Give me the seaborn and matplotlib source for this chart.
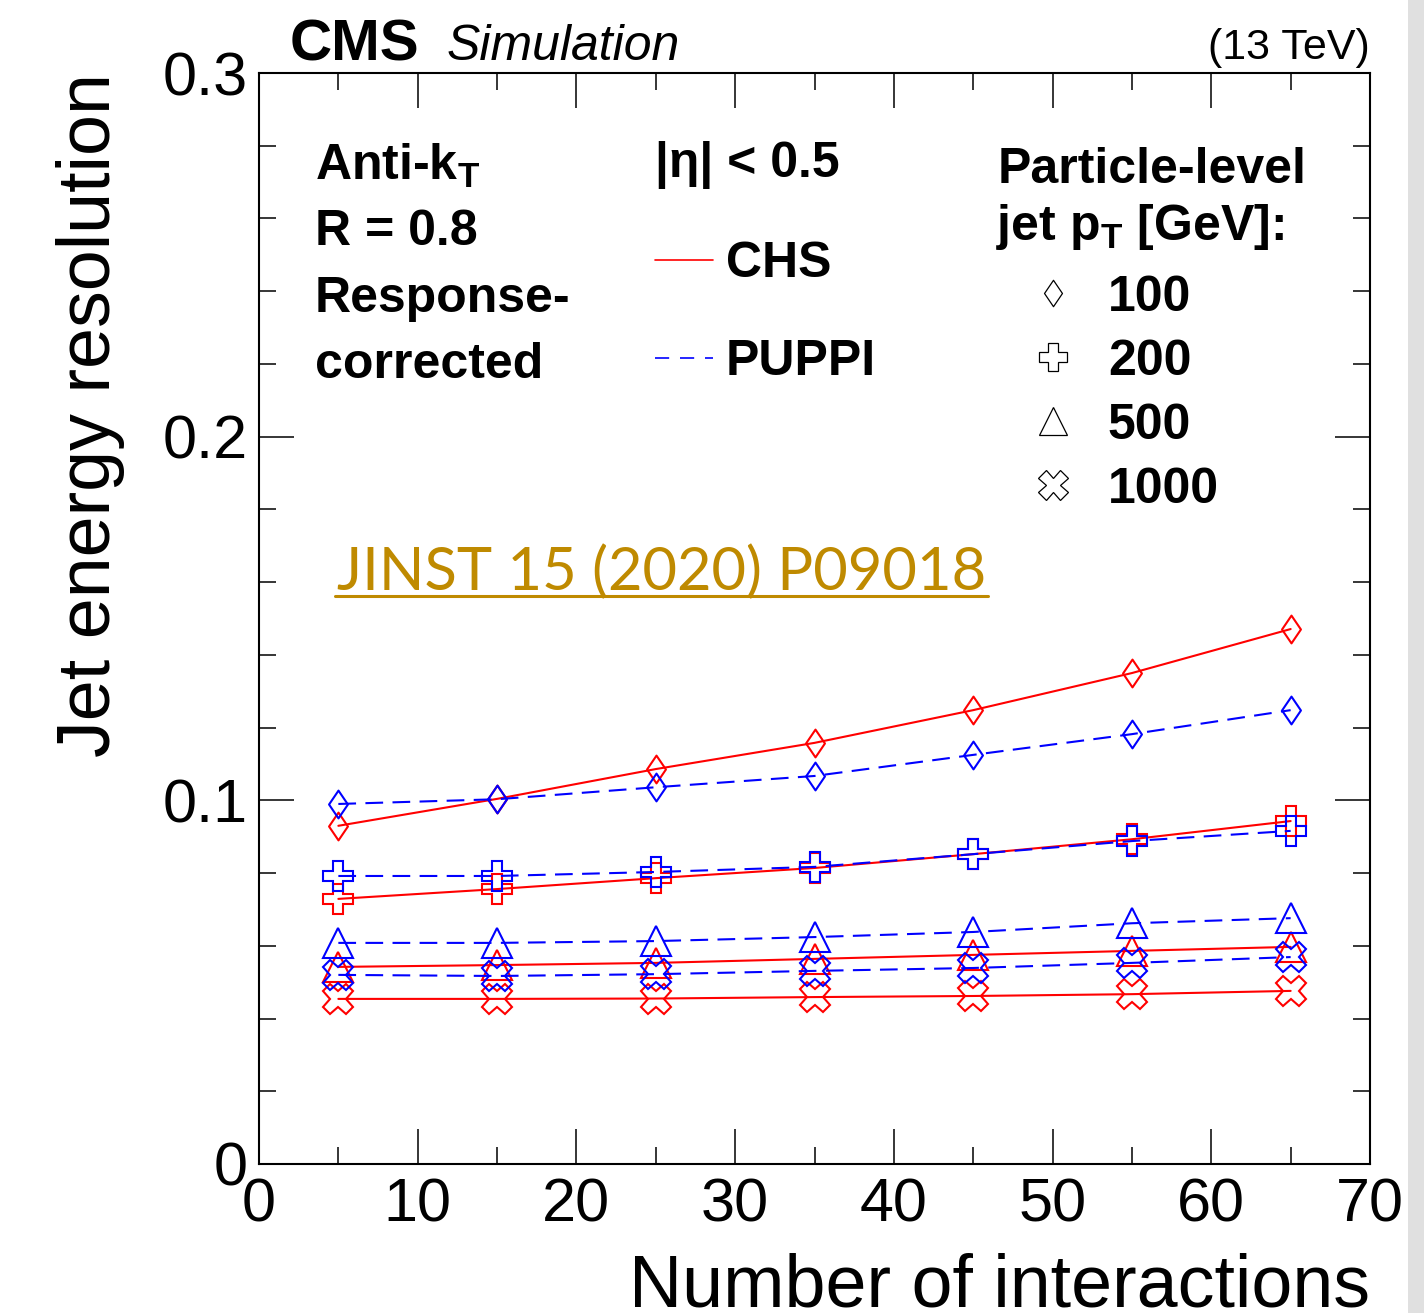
import numpy as np
import pandas as pd
import matplotlib
matplotlib.use("Agg")
import matplotlib.pyplot as plt
from matplotlib.lines import Line2D
from matplotlib.path import Path
from matplotlib.patches import Rectangle
import seaborn as sns

# ---- data -------------------------------------------------------------
n_interactions = [5, 15, 25, 35, 45, 55, 65]
pt_bins = ["100", "200", "500", "1000"]
algorithms = ["CHS", "PUPPI"]

chs_100 = [0.0930, 0.1004, 0.1086, 0.1158, 0.1248, 0.1350, 0.1471]
puppi_100 = [0.0990, 0.1003, 0.1036, 0.1067, 0.1125, 0.1182, 0.1248]
chs_200 = [0.0729, 0.0756, 0.0786, 0.0814, 0.0852, 0.0893, 0.0943]
puppi_200 = [0.0792, 0.0792, 0.0803, 0.0817, 0.0852, 0.0888, 0.0916]
chs_500 = [0.0542, 0.0547, 0.0553, 0.0564, 0.0575, 0.0586, 0.0597]
puppi_500 = [0.0608, 0.0608, 0.0613, 0.0624, 0.0638, 0.0662, 0.0676]
chs_1000 = [0.0454, 0.0454, 0.0455, 0.0459, 0.0462, 0.0467, 0.0476]
puppi_1000 = [0.0520, 0.0517, 0.0522, 0.0531, 0.0539, 0.0553, 0.0569]

x_ticks = [0, 10, 20, 30, 40, 50, 60, 70]
y_ticks = [0, 0.1, 0.2, 0.3]
y_tick_labels = ["0", "0.1", "0.2", "0.3"]

series = {
    ("CHS", "100"): chs_100, ("PUPPI", "100"): puppi_100,
    ("CHS", "200"): chs_200, ("PUPPI", "200"): puppi_200,
    ("CHS", "500"): chs_500, ("PUPPI", "500"): puppi_500,
    ("CHS", "1000"): chs_1000, ("PUPPI", "1000"): puppi_1000,
}
rows = []
for (algo, pt), vals in series.items():
    for n, v in zip(n_interactions, vals):
        rows.append({"algo": algo, "pt": pt, "npu": n, "res": v})
df = pd.DataFrame(rows)

# ---- style ------------------------------------------------------------
sns.set_style("ticks")
plt.rcParams["font.family"] = ["Liberation Sans", "DejaVu Sans"]
plt.rcParams["mathtext.fontset"] = "custom"
plt.rcParams["mathtext.rm"] = "Liberation Sans:bold"
plt.rcParams["mathtext.bf"] = "Liberation Sans:bold"
plt.rcParams["mathtext.it"] = "Liberation Sans:bold"
for key in ["text.color", "axes.labelcolor", "xtick.color", "ytick.color",
            "axes.edgecolor", "xtick.labelcolor", "ytick.labelcolor"]:
    plt.rcParams[key] = "black"

algo_style = {
    "CHS": dict(color="#ff0000", linestyle="-"),
    "PUPPI": dict(color="#0000ff", linestyle=(0, (8.5, 4.5))),
}

diamond = Path([(0, 1), (0.68, 0), (0, -1), (-0.68, 0), (0, 1)],
               [Path.MOVETO, Path.LINETO, Path.LINETO, Path.LINETO, Path.CLOSEPOLY])
pt_marker = {"100": diamond, "200": "P", "500": "^", "1000": "X"}
pt_msize = {"100": 20, "200": 21, "500": 21, "1000": 22}

fig = plt.figure(figsize=(14.24, 13.13), dpi=100)
fig.patch.set_facecolor("white")
ax = fig.add_axes([259 / 1424, 1 - 1164 / 1313, (1370 - 259) / 1424, (1164 - 73) / 1313])

for algo in algorithms:
    for pt in pt_bins:
        sub = df[(df["algo"] == algo) & (df["pt"] == pt)]
        st = algo_style[algo]
        sns.lineplot(data=sub, x="npu", y="res", ax=ax, estimator=None,
                     errorbar=None, sort=False, legend=False,
                     color=st["color"], linestyle=st["linestyle"], linewidth=1.5,
                     marker=pt_marker[pt], markersize=pt_msize[pt],
                     fillstyle="none", markeredgecolor=st["color"],
                     markeredgewidth=1.5)

# ---- axes -------------------------------------------------------------
ax.set_xlim(0, 70)
ax.set_ylim(0, 0.3)
ax.set_xticks(x_ticks)
ax.set_xticklabels([str(t) for t in x_ticks])
ax.set_yticks(y_ticks)
ax.set_yticklabels(y_tick_labels)
ax.set_xticks(np.arange(5, 70, 10), minor=True)
ax.set_yticks(np.arange(0.02, 0.3, 0.02), minor=True)
ax.tick_params(which="both", direction="in", top=True, right=True,
               color="black", width=1.1)
ax.tick_params(which="major", length=25, labelsize=44, labelcolor="black")
ax.tick_params(which="minor", length=12)
ax.tick_params(axis="y", which="major", pad=8)
ax.tick_params(axis="x", which="major", pad=9.5)
for s in ax.spines.values():
    s.set_linewidth(1.5)
    s.set_color("black")

ax.set_xlabel("Number of interactions", fontsize=53, loc="right", color="black")
ax.xaxis.set_label_coords(1.0, -0.081)
ax.set_ylabel("Jet energy resolution", fontsize=53, loc="top", color="black")
ax.yaxis.set_label_coords(-0.1206, 1.0)

# ---- header -----------------------------------------------------------
ax.text(0.0279, 1.0119, "CMS", transform=ax.transAxes, fontsize=42,
        fontweight="bold", va="baseline", ha="left")
ax.text(0.1692, 1.0119, "Simulation", transform=ax.transAxes, fontsize=36,
        fontstyle="italic", va="baseline", ha="left")
ax.text(1.0, 1.0128, "(13 TeV)", transform=ax.transAxes, fontsize=31,
        va="baseline", ha="right")

# ---- descriptive text block -------------------------------------------
bold = dict(fontsize=36, fontweight="bold", va="baseline", ha="left",
            transform=ax.transAxes)
ax.text(0.0504, 0.9019, r"Anti-k$_\mathrm{T}$", **bold)
ax.text(0.0504, 0.8423, "R = 0.8", **bold)
ax.text(0.0504, 0.7809, "Response-", **bold)
ax.text(0.0504, 0.7204, "corrected", **bold)

# ---- legends ----------------------------------------------------------
prop = dict(family="Liberation Sans", weight="bold", size=36)
line_handles = [
    Line2D([], [], color="#ff0000", lw=1.2),
    Line2D([], [], color="#0000ff", lw=1.2, linestyle=(0, (8.5, 6.5))),
]
leg1 = ax.legend(line_handles, algorithms, title="|η| < 0.5",
                 loc="upper left", bbox_to_anchor=(0.3564, 0.9376),
                 frameon=False, prop=prop, title_fontproperties=prop,
                 handlelength=1.16, handletextpad=0.26, labelspacing=1.04,
                 borderpad=0, borderaxespad=0, alignment="left")
ax.add_artist(leg1)

ax.text(0.665, (1164 - 183) / 1091, "Particle-level", **bold)
ax.text(0.663, (1164 - 240) / 1091, r"jet p$_\mathrm{T}$ [GeV]:", **bold)

marker_handles = [
    Line2D([], [], linestyle="none", marker=pt_marker[pt],
           markersize=pt_msize[pt] - 1, markerfacecolor="none",
           markeredgecolor="black", markeredgewidth=0.9)
    for pt in pt_bins
]
leg2 = ax.legend(marker_handles, pt_bins,
                 loc="upper left", bbox_to_anchor=(0.665, 0.8149),
                 frameon=False, prop=prop,
                 handlelength=2.2, handletextpad=0.0, labelspacing=0.36,
                 borderpad=0, borderaxespad=0, alignment="left")

# ---- publication reference --------------------------------------------
ref = ax.text((337 - 259) / 1111, (1164 - 590) / 1091, "JINST 15 (2020) P09018",
              transform=ax.transAxes, fontsize=43, family=["Lato", "DejaVu Sans"],
              color="#bf8a00", va="baseline", ha="left")
fig.canvas.draw()
bb = ref.get_window_extent()
W, H = fig.bbox.width, fig.bbox.height
uy = 1 - 596 / 1313
fig.add_artist(Line2D([(bb.x0 - 2) / W, (bb.x1 + 2) / W], [uy, uy],
                      transform=fig.transFigure, color="#bf8a00", lw=2.2))

# light strip at the right edge of the canvas
fig.add_artist(Rectangle((1408 / 1424, 0), 16 / 1424, 1, transform=fig.transFigure,
                         facecolor="#e0e0e0", edgecolor="none"))

fig.savefig("out.png", dpi=100)
